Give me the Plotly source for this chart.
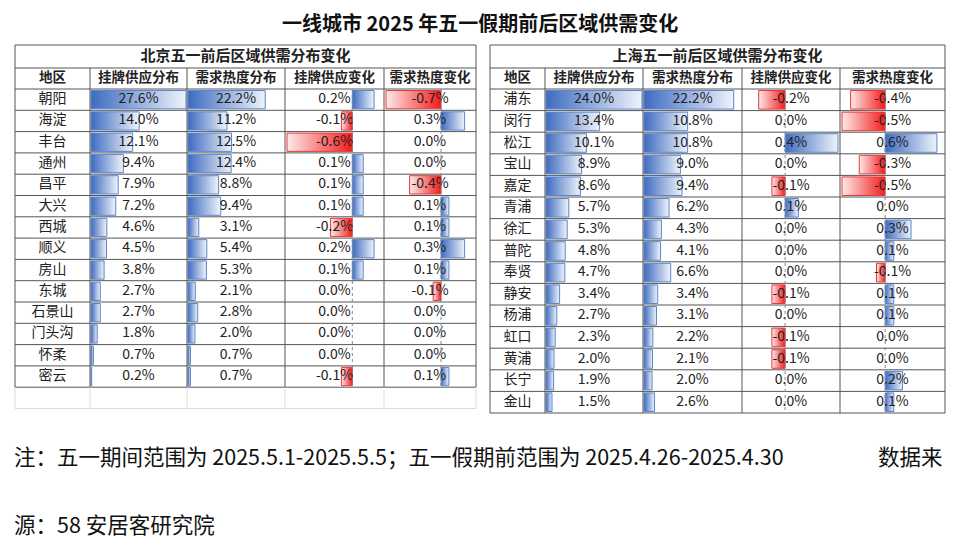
import plotly.graph_objects as go

cols = ["地区", "挂牌供应分布", "需求热度分布", "挂牌供应变化", "需求热度变化"]

bj_area = ["朝阳", "海淀", "丰台", "通州", "昌平", "大兴", "西城", "顺义", "房山", "东城", "石景山", "门头沟", "怀柔", "密云"]
bj_supply = [27.6, 14.0, 12.1, 9.4, 7.9, 7.2, 4.6, 4.5, 3.8, 2.7, 2.7, 1.8, 0.7, 0.2]
bj_demand = [22.2, 11.2, 12.5, 12.4, 8.8, 9.4, 3.1, 5.4, 5.3, 2.1, 2.8, 2.0, 0.7, 0.7]
bj_supply_chg = [0.2, -0.1, -0.6, 0.1, 0.1, 0.1, -0.2, 0.2, 0.1, 0.0, 0.0, 0.0, 0.0, -0.1]
bj_demand_chg = [-0.7, 0.3, 0.0, 0.0, -0.4, 0.1, 0.1, 0.3, 0.1, -0.1, 0.0, 0.0, 0.0, 0.1]

sh_area = ["浦东", "闵行", "松江", "宝山", "嘉定", "青浦", "徐汇", "普陀", "奉贤", "静安", "杨浦", "虹口", "黄浦", "长宁", "金山"]
sh_supply = [24.0, 13.4, 10.1, 8.9, 8.6, 5.7, 5.3, 4.8, 4.7, 3.4, 2.7, 2.3, 2.0, 1.9, 1.5]
sh_demand = [22.2, 10.8, 10.8, 9.0, 9.4, 6.2, 4.3, 4.1, 6.6, 3.4, 3.1, 2.2, 2.1, 2.0, 2.6]
sh_supply_chg = [-0.2, 0.0, 0.4, 0.0, -0.1, 0.1, 0.0, 0.0, 0.0, -0.1, 0.0, -0.1, -0.1, 0.0, 0.0]
sh_demand_chg = [-0.4, -0.5, 0.6, -0.3, -0.5, 0.0, 0.3, 0.1, -0.1, 0.1, 0.1, 0.0, 0.0, 0.2, 0.1]

fig = go.Figure()
shapes = []
tx, ty, tt, tf = [], [], [], []

def bar(x0, x1, y0, y1, neg):
    if abs(x1 - x0) < 0.5:
        return
    lo, hi = min(x0, x1), max(x0, x1)
    if neg:
        cs = [[0, "#FFE9E9"], [1, "#F21C1C"]]
        lc = "#E33B3B"
    else:
        cs = [[0, "#3E6BC0"], [1, "#EEF3FA"]]
        lc = "#5B86CC"
    fig.add_trace(go.Scatter(x=[lo, hi, hi, lo, lo], y=[y0, y0, y1, y1, y0], mode="lines",
                             fill="toself", line=dict(color=lc, width=1),
                             fillgradient=dict(type="horizontal", colorscale=cs),
                             hoverinfo="skip", showlegend=False))

def table(title, xs, top, rowh, nrows, area, sup, dem, schg, dchg, axfr, blank_rows):
    left, right = xs[0], xs[-1]
    hdr_top, hdr_bot = top + 23, top + 44
    body_top = hdr_bot
    n_all = nrows + blank_rows
    bottom = body_top + rowh * n_all
    shapes.append(dict(type="rect", x0=left, x1=right, y0=top, y1=body_top + rowh * nrows,
                       line=dict(color="#555", width=1)))
    shapes.append(dict(type="line", x0=left, x1=right, y0=hdr_top, y1=hdr_top, line=dict(color="#555", width=1)))
    shapes.append(dict(type="line", x0=left, x1=right, y0=hdr_bot, y1=hdr_bot, line=dict(color="#555", width=1)))
    for i in range(1, nrows):
        y = body_top + rowh * i
        shapes.append(dict(type="line", x0=left, x1=right, y0=y, y1=y, line=dict(color="#555", width=1)))
    for x in xs[1:-1]:
        shapes.append(dict(type="line", x0=x, x1=x, y0=hdr_top, y1=body_top + rowh * nrows, line=dict(color="#555", width=1)))
    if blank_rows:
        for x in xs:
            shapes.append(dict(type="line", x0=x, x1=x, y0=body_top + rowh * nrows, y1=bottom, line=dict(color="#ddd", width=1)))
        shapes.append(dict(type="line", x0=left, x1=right, y0=bottom, y1=bottom, line=dict(color="#ddd", width=1)))
    tx.append((left + right) / 2); ty.append(top + 12); tt.append("<b>" + title + "</b>"); tf.append(15)
    for c in range(5):
        tx.append((xs[c] + xs[c + 1]) / 2); ty.append((hdr_top + hdr_bot) / 2); tt.append("<b>" + cols[c] + "</b>"); tf.append(13.5)
    mx = max(max(sup), max(dem))
    for k, vals in ((3, schg), (4, dchg)):
        cl, cr = xs[k] + 2, xs[k + 1] - 2
        ax = xs[k] + axfr[k - 3] * (xs[k + 1] - xs[k])
        scale = min((ax - cl) / max(1e-9, -min(vals)) if min(vals) < 0 else 1e9,
                    (cr - ax) / max(vals) if max(vals) > 0 else 1e9)
        shapes.append(dict(type="line", x0=ax, x1=ax, y0=body_top, y1=body_top + rowh * nrows,
                           line=dict(color="#888", width=1, dash="dot")))
        for i, v in enumerate(vals):
            y0 = body_top + rowh * i + 1.5
            bar(ax, ax + v * scale, y0, y0 + rowh - 3, v < 0)
    for k, vals in ((1, sup), (2, dem)):
        w = xs[k + 1] - xs[k] - 2
        for i, v in enumerate(vals):
            y0 = body_top + rowh * i + 1.5
            bar(xs[k] + 1, xs[k] + 1 + v / mx * w, y0, y0 + rowh - 3, False)
    for i in range(nrows):
        yc = body_top + rowh * (i + 0.5)
        row = [area[i], f"{sup[i]:.1f}%", f"{dem[i]:.1f}%", f"{schg[i]:.1f}%", f"{dchg[i]:.1f}%"]
        for c in range(5):
            tx.append((xs[c] + xs[c + 1]) / 2); ty.append(yc); tt.append(row[c]); tf.append(14)

table("北京五一前后区域供需分布变化", [15, 90, 187, 285, 384, 476], 45, 21.3, len(bj_area),
      bj_area, bj_supply, bj_demand, bj_supply_chg, bj_demand_chg, [0.68, 0.62], 1)
table("上海五一前后区域供需分布变化", [490, 545, 643, 742, 840, 945], 45, 21.6, len(sh_area),
      sh_area, sh_supply, sh_demand, sh_supply_chg, sh_demand_chg, [0.44, 0.43], 0)

for f in sorted(set(tf)):
    idx = [i for i in range(len(tf)) if tf[i] == f]
    fig.add_trace(go.Scatter(x=[tx[i] for i in idx], y=[ty[i] for i in idx], text=[tt[i] for i in idx],
                             mode="text", textfont=dict(size=f, color="#222", family="Noto Sans CJK SC"),
                             hoverinfo="skip", showlegend=False))

ann = [
    dict(x=480, y=22, text="<b>一线城市 2025 年五一假期前后区域供需变化</b>", font=dict(size=20)),
    dict(x=12, y=455, text="注：五一期间范围为 2025.5.1-2025.5.5；五一假期前范围为 2025.4.26-2025.4.30", font=dict(size=21.5), xanchor="left"),
    dict(x=945, y=455, text="数据来", font=dict(size=21.5), xanchor="right"),
    dict(x=12, y=523, text="源：58 安居客研究院", font=dict(size=21.5), xanchor="left"),
]
for a in ann:
    a.update(xref="x", yref="y", showarrow=False)
    a.setdefault("xanchor", "center")
    a["font"].update(color="#111", family="Noto Sans CJK SC")

fig.update_layout(width=960, height=554, margin=dict(l=0, r=0, t=0, b=0),
                  plot_bgcolor="white", paper_bgcolor="white", shapes=shapes, annotations=ann,
                  xaxis=dict(range=[8, 968], visible=False, fixedrange=True),
                  yaxis=dict(range=[562, 8], visible=False, fixedrange=True),
                  font=dict(family="Noto Sans CJK SC"))
fig.write_html("out.html")
